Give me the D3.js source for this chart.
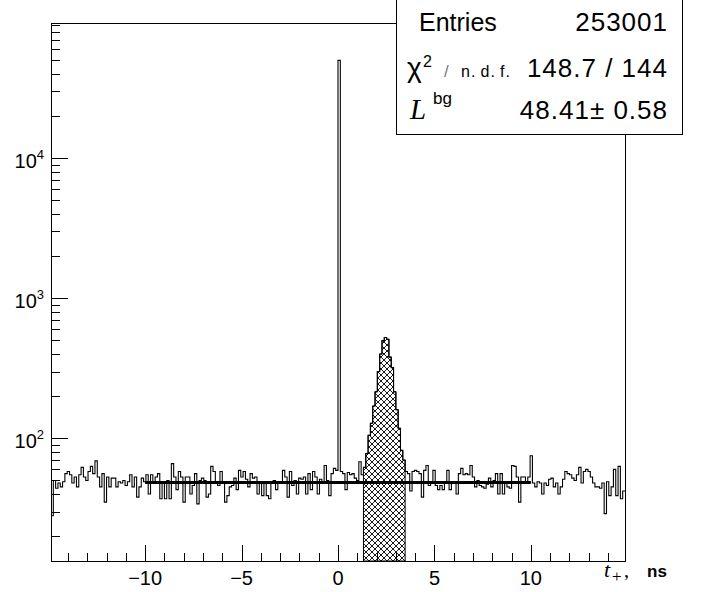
<!DOCTYPE html>
<html>
<head>
<meta charset="utf-8">
<script src="https://cdn.jsdelivr.net/npm/d3@7"></script>
<style>
  body { margin: 0; background: #fff; }
  text { font-family: "Liberation Sans", Arial, sans-serif; fill: #000; }
</style>
</head>
<body>
<script>
const width = 703;
const height = 592;

// frame of the pad
const frameLeft = 51, frameRight = 625, frameTop = 23, frameBottom = 561;

// histogram binning (ns)
const binLow = -14.88;
const binWidth = 0.12;

// counts per bin
const counts = [
  28, 50, 44, 48, 45, 49, 56, 58, 55, 48, 53, 45, 55, 62, 53, 50,
  58, 63, 56, 69, 53, 45, 56, 35, 53, 45, 52, 52, 45, 49, 48, 50,
  46, 49, 55, 45, 53, 38, 45, 52, 49, 55, 40, 55, 48, 53, 56, 37,
  49, 37, 50, 37, 66, 53, 43, 58, 53, 35, 53, 53, 40, 46, 56, 34,
  50, 52, 50, 38, 40, 63, 58, 48, 46, 58, 48, 35, 39, 45, 46, 52,
  43, 59, 53, 58, 51, 45, 56, 52, 53, 40, 48, 39, 49, 39, 37, 49,
  50, 43, 49, 48, 59, 53, 38, 58, 46, 50, 40, 52, 51, 53, 40, 56,
  43, 58, 53, 40, 51, 49, 64, 50, 39, 56, 61, 59,
  50000,
  58, 56, 43, 57, 55, 56, 52, 50, 68, 55,
  62, 78, 105, 128, 170, 215, 300, 400, 500, 525, 510, 380, 320, 215, 160, 118, 82, 70,
  58, 56, 42, 58, 59, 58, 56, 38, 59, 64, 46, 49, 59, 46, 43, 46,
  43, 49, 59, 43, 49, 48, 40, 56, 61, 55, 56, 55, 64, 53, 45, 50,
  46, 45, 44, 47, 52, 45, 50, 56, 40, 56, 40, 48, 45, 44, 64, 63,
  53, 35, 53, 53, 49, 53, 75,
  48, 45, 49, 48, 40, 48, 46, 51, 52, 45, 48, 40, 45, 51, 58, 56,
  55, 52, 50, 55, 62, 48, 58, 60, 58, 53, 48, 45, 45, 44, 48, 29,
  49, 39, 45, 60, 39, 63, 37, 42
];

// fitted constant background and the excluded signal window
const fitRange = [-10, 10];
const fitValue = 48.41;
const signalRange = [1.32, 3.48];

// axis limits and ticks
const xDomain = [-14.88, 14.88];
const yDomain = [13.3, 92500];
const xMajorTicks = [-10, -5, 0, 5, 10];
const xTickLabels = ["\u221210", "\u22125", "0", "5", "10"];
const yLabelTicks = [100, 1000, 10000];
const yLabelExponents = ["2", "3", "4"];

// stats box
const statsEntries = "253001";
const statsChi2 = "148.7 / 144";
const statsLbg = "48.41\u00b1 0.58";

const svg = d3.select("body")
  .append("svg")
  .attr("width", width)
  .attr("height", height);

const x = d3.scaleLinear().domain(xDomain).range([frameLeft, frameRight]);
const y = d3.scaleLog().domain(yDomain).range([frameBottom, frameTop]);

// hatch pattern for the signal window
const defs = svg.append("defs");
const hatch = defs.append("pattern")
  .attr("id", "hatch")
  .attr("patternUnits", "userSpaceOnUse")
  .attr("width", 6)
  .attr("height", 6);
hatch.append("path")
  .attr("d", "M-1,-1L7,7M7,-1L-1,7")
  .attr("stroke", "#000")
  .attr("stroke-width", 0.9);

defs.append("clipPath").attr("id", "frameClip")
  .append("rect")
  .attr("x", frameLeft).attr("y", frameTop)
  .attr("width", frameRight - frameLeft).attr("height", frameBottom - frameTop);

const bins = counts.map((c, i) => ({x0: binLow + i * binWidth, x1: binLow + (i + 1) * binWidth, c: c}));

const step = d3.line()
  .x(d => x(d[0]))
  .y(d => y(d[1]))
  .curve(d3.curveStepAfter);

// signal window, hatched down to the bottom of the frame
const eps = 1e-6;
const sig = bins.filter(b => b.x0 >= signalRange[0] - eps && b.x1 <= signalRange[1] + eps);
const sigPts = sig.map(b => [b.x0, b.c]);
sigPts.push([sig[sig.length - 1].x1, sig[sig.length - 1].c]);
const sigPath = step(sigPts) + "V" + frameBottom + "H" + x(sig[0].x0) + "Z";
svg.append("path")
  .attr("d", sigPath)
  .attr("fill", "url(#hatch)")
  .attr("stroke", "#000")
  .attr("stroke-width", 1);

// full histogram outline
const pts = bins.map(b => [b.x0, b.c]);
pts.push([bins[bins.length - 1].x1, bins[bins.length - 1].c]);
svg.append("path")
  .attr("d", step(pts))
  .attr("fill", "none")
  .attr("stroke", "#000")
  .attr("stroke-width", 1.1)
  .attr("clip-path", "url(#frameClip)");

// fit line
svg.append("line")
  .attr("x1", x(fitRange[0])).attr("x2", x(fitRange[1]))
  .attr("y1", y(fitValue)).attr("y2", y(fitValue))
  .attr("stroke", "#000")
  .attr("stroke-width", 3);

// frame
svg.append("rect")
  .attr("x", frameLeft + 0.5).attr("y", frameTop + 0.5)
  .attr("width", frameRight - frameLeft).attr("height", frameBottom - frameTop)
  .attr("fill", "none")
  .attr("stroke", "#000")
  .attr("stroke-width", 1);

// x ticks (inside the frame)
const xMinor = d3.range(Math.ceil(xDomain[0]), Math.floor(xDomain[1]) + 1);
svg.append("g").selectAll("line")
  .data(xMinor)
  .enter()
  .append("line")
  .attr("x1", d => Math.round(x(d)) + 0.5)
  .attr("x2", d => Math.round(x(d)) + 0.5)
  .attr("y1", frameBottom)
  .attr("y2", d => frameBottom - (d % 5 === 0 ? 16 : 8))
  .attr("stroke", "#000")
  .attr("stroke-width", 1);

svg.append("g").selectAll("text")
  .data(xMajorTicks)
  .enter()
  .append("text")
  .attr("x", d => x(d))
  .attr("y", 585)
  .attr("text-anchor", "middle")
  .style("font-size", "20px")
  .text((d, i) => xTickLabels[i]);

// x title: t_+, ns
svg.append("text")
  .attr("x", 604).attr("y", 577)
  .style("font-family", "'Liberation Serif', serif")
  .style("font-style", "italic")
  .style("font-size", "22px")
  .text("t");
svg.append("text")
  .attr("x", 612).attr("y", 582)
  .style("font-family", "'Liberation Serif', serif")
  .style("font-size", "17px")
  .text("+");
svg.append("text")
  .attr("x", 624).attr("y", 577)
  .style("font-family", "'Liberation Serif', serif")
  .style("font-size", "20px")
  .text(",");
svg.append("text")
  .attr("x", 647).attr("y", 577)
  .style("font-size", "17px")
  .style("font-weight", "bold")
  .text("ns");

// y ticks (log)
const yTicks = y.ticks().filter(v => v >= yDomain[0] && v <= yDomain[1]);
svg.append("g").selectAll("line")
  .data(yTicks)
  .enter()
  .append("line")
  .attr("y1", d => Math.round(y(d)) + 0.5)
  .attr("y2", d => Math.round(y(d)) + 0.5)
  .attr("x1", frameLeft)
  .attr("x2", d => frameLeft + (yLabelTicks.includes(d) ? 17 : 9))
  .attr("stroke", "#000")
  .attr("stroke-width", 1);

const yl = svg.append("g").selectAll("text")
  .data(yLabelTicks)
  .enter()
  .append("text")
  .attr("x", 44)
  .attr("y", d => y(d) + 10)
  .attr("text-anchor", "end")
  .style("font-size", "20px");
yl.append("tspan").text("10");
yl.append("tspan")
  .attr("dy", -9)
  .style("font-size", "13px")
  .text((d, i) => yLabelExponents[i]);

// stats box
svg.append("rect")
  .attr("x", 396.5).attr("y", -1)
  .attr("width", 286).attr("height", 135.5)
  .attr("fill", "#fff")
  .attr("stroke", "#000")
  .attr("stroke-width", 1);

svg.append("text")
  .attr("x", 419).attr("y", 31)
  .style("font-size", "25px")
  .text("Entries");
svg.append("text")
  .attr("x", 668).attr("y", 31)
  .attr("text-anchor", "end")
  .style("font-size", "26px")
  .style("letter-spacing", "1px")
  .text(statsEntries);

svg.append("text")
  .attr("x", 407).attr("y", 77)
  .style("font-size", "28px")
  .text("\u03c7");
svg.append("text")
  .attr("x", 423).attr("y", 67)
  .style("font-size", "16px")
  .text("2");
svg.append("text")
  .attr("x", 444).attr("y", 77)
  .style("font-size", "17px")
  .style("fill", "#777")
  .text("/");
svg.append("text")
  .attr("x", 461).attr("y", 77)
  .style("font-size", "16px")
  .style("letter-spacing", "1px")
  .text("n.\u2009d.\u2009f.");
svg.append("text")
  .attr("x", 668).attr("y", 77)
  .attr("text-anchor", "end")
  .style("font-size", "26px")
  .style("letter-spacing", "1px")
  .text(statsChi2);

svg.append("text")
  .attr("x", 410).attr("y", 119)
  .style("font-family", "'Liberation Serif', serif")
  .style("font-style", "italic")
  .style("font-size", "29px")
  .text("L");
svg.append("text")
  .attr("x", 433).attr("y", 104)
  .style("font-size", "17px")
  .text("bg");
svg.append("text")
  .attr("x", 668).attr("y", 119)
  .attr("text-anchor", "end")
  .style("font-size", "26px")
  .style("letter-spacing", "1px")
  .text(statsLbg);
</script>
</body>
</html>
